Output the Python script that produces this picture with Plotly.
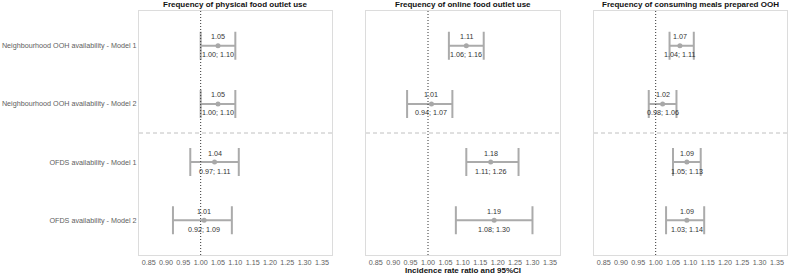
import plotly.graph_objects as go

categories = ["Neighbourhood OOH availability - Model 1",
              "Neighbourhood OOH availability - Model 2",
              "OFDS availability - Model 1",
              "OFDS availability - Model 2"]
panel_titles = ["Frequency of physical food outlet use",
                "Frequency of online food outlet use",
                "Frequency of consuming meals prepared OOH"]
irr = [[1.05, 1.05, 1.04, 1.01],
       [1.11, 1.01, 1.18, 1.19],
       [1.07, 1.02, 1.09, 1.09]]
lo = [[1.00, 1.00, 0.97, 0.92],
      [1.06, 0.94, 1.11, 1.08],
      [1.04, 0.98, 1.05, 1.03]]
hi = [[1.10, 1.10, 1.11, 1.09],
      [1.16, 1.07, 1.26, 1.30],
      [1.11, 1.06, 1.13, 1.14]]
tick_vals = [0.85, 0.90, 0.95, 1.00, 1.05, 1.10, 1.15, 1.20, 1.25, 1.30, 1.35]

W, H = 789, 275
x_domains = [(139, 332), (366, 560), (594, 787)]
y_top, y_bot = 11, 255
FONT = "Liberation Sans, Arial, sans-serif"
FS = 7.2

fig = go.Figure()
annotations = []
shapes = []
for i in range(3):
    ax = "" if i == 0 else str(i + 1)
    fig.add_trace(go.Scatter(
        x=irr[i], y=categories, mode="markers",
        marker=dict(color="#A8A8A8", size=5, symbol="circle"),
        error_x=dict(type="data", symmetric=False,
                     array=[h - m for h, m in zip(hi[i], irr[i])],
                     arrayminus=[m - l for m, l in zip(irr[i], lo[i])],
                     color="#ABABAB", thickness=2, width=14),
        xaxis="x" + ax, yaxis="y" + ax, showlegend=False, hoverinfo="skip"))
    d = x_domains[i]
    fig.update_layout(**{
        "xaxis" + ax: dict(domain=[d[0] / W, d[1] / W], range=[0.822, 1.379],
                           tickvals=tick_vals, ticktext=[f"{v:.2f}" for v in tick_vals],
                           tickangle=0, automargin=False, ticklabelstandoff=0,
                           showgrid=False, zeroline=False, showline=True, mirror=True,
                           linecolor="#DCDCDC", linewidth=1, ticks="",
                           tickfont=dict(size=FS, color="#5E5E5E", family=FONT),
                           anchor="y" + ax),
        "yaxis" + ax: dict(domain=[(H - y_bot) / H, (H - y_top) / H],
                           categoryorder="array", categoryarray=categories,
                           range=[3.6, -0.6], showgrid=False, zeroline=False,
                           automargin=False,
                           showline=True, mirror=True, linecolor="#DCDCDC", linewidth=1,
                           ticks="", showticklabels=(i == 0),
                           tickfont=dict(size=FS, color="#5E5E5E", family=FONT),
                           anchor="x" + ax),
    })
    xref = "x" + ax
    yref = "y" + ax
    shapes.append(dict(type="line", xref=xref, yref=yref + " domain",
                       x0=1.0, x1=1.0, y0=0, y1=1,
                       line=dict(color="#333333", width=1, dash="1px,2px")))
    shapes.append(dict(type="line", xref=xref + " domain", yref=yref,
                       x0=0, x1=1, y0=1.5, y1=1.5,
                       line=dict(color="#C0C0C0", width=1, dash="4px,3px")))
    for j, c in enumerate(categories):
        annotations.append(dict(x=irr[i][j], y=c, xref=xref, yref=yref,
                                text=f"{irr[i][j]:.2f}", showarrow=False, yshift=9,
                                xanchor="center", yanchor="middle",
                                font=dict(size=FS, color="#333333", family=FONT)))
        annotations.append(dict(x=irr[i][j], y=c, xref=xref, yref=yref,
                                text=f"{lo[i][j]:.2f}; {hi[i][j]:.2f}", showarrow=False,
                                yshift=-9, xanchor="center", yanchor="middle",
                                font=dict(size=FS, color="#333333", family=FONT)))
    annotations.append(dict(x=(d[0] + d[1]) / 2 / W, y=(H - 4.5) / H, xref="paper",
                            yref="paper", xanchor="center", yanchor="middle",
                            text=f"<b>{panel_titles[i]}</b>", showarrow=False,
                            font=dict(size=8, color="#111111", family=FONT)))

annotations.append(dict(x=(x_domains[1][0] + x_domains[1][1]) / 2 / W, y=(H - 270) / H,
                        xref="paper", yref="paper", xanchor="center", yanchor="middle",
                        text="<b>Incidence rate ratio and 95%CI</b>", showarrow=False,
                        font=dict(size=8, color="#111111", family=FONT)))

fig.update_layout(width=W, height=H, margin=dict(l=0, r=0, t=0, b=0),
                  plot_bgcolor="white", paper_bgcolor="white",
                  annotations=annotations, shapes=shapes,
                  font=dict(family=FONT))
fig.write_html("out.html", config={"displayModeBar": False},
               post_script="document.body.style.margin='0';document.body.style.padding='0';")
